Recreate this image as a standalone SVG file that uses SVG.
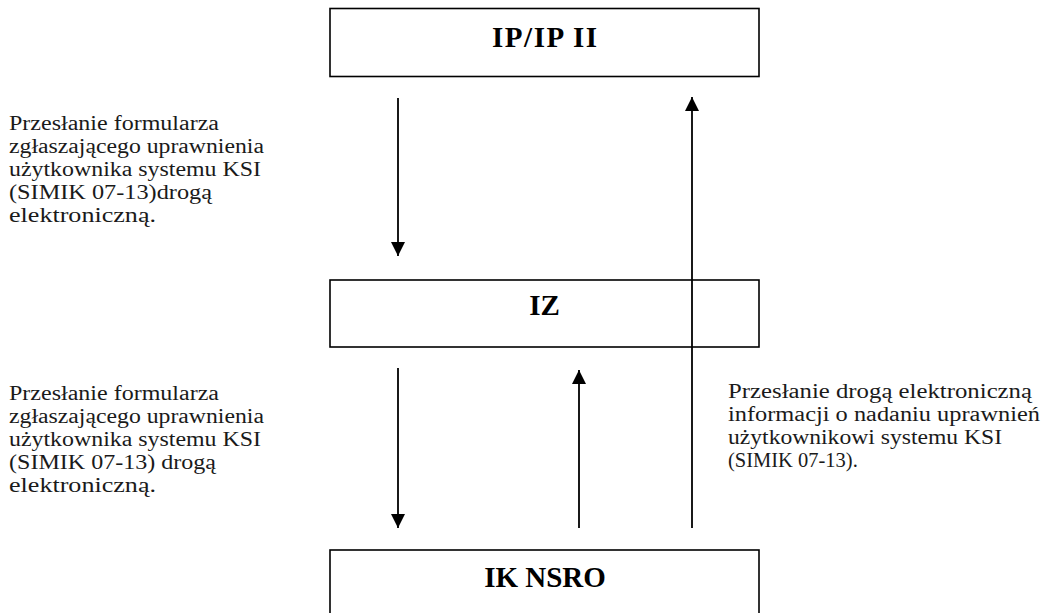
<svg xmlns="http://www.w3.org/2000/svg" width="1047" height="613" viewBox="0 0 1047 613">
<style>
.box{fill:#fff;stroke:#000;stroke-width:1.6}
.title{font-family:"Liberation Serif",serif;font-weight:bold;font-size:29px;text-anchor:middle;fill:#000}
.lbl{font-family:"Liberation Serif",serif;font-size:20.5px;fill:#1a1a1a}
.conn{stroke:#000;stroke-width:1.8;fill:none}
</style>
<defs>
<marker id="ah" markerUnits="userSpaceOnUse" markerWidth="16" markerHeight="16" viewBox="0 0 16 16" refX="14" refY="8" orient="auto">
<path d="M0,1 L14,8 L0,15 Z" fill="#000"/>
</marker>
</defs>
<g id="node-ip">
<rect class="box" x="330" y="8.5" width="429" height="68"/>
<text class="title" x="544.5" y="47" textLength="105">IP/IP II</text>
</g>
<g id="node-iz">
<rect class="box" x="330" y="280" width="429" height="67"/>
<text class="title" x="544.5" y="315">IZ</text>
</g>
<g id="node-ik">
<rect class="box" x="330" y="550" width="429" height="80"/>
<text class="title" x="545" y="587">IK NSRO</text>
</g>
<g id="connectors">
<line class="conn" x1="398" y1="98" x2="398" y2="256" marker-end="url(#ah)"/>
<line class="conn" x1="398" y1="368" x2="398" y2="528" marker-end="url(#ah)"/>
<line class="conn" x1="579" y1="528" x2="579" y2="370" marker-end="url(#ah)"/>
<line class="conn" x1="692" y1="528" x2="692" y2="97" marker-end="url(#ah)"/>
</g>
<g id="label-1">
<text class="lbl"><tspan x="9" y="130" textLength="210" lengthAdjust="spacingAndGlyphs">Przesłanie formularza</tspan><tspan x="9" y="153" textLength="255" lengthAdjust="spacingAndGlyphs">zgłaszającego uprawnienia</tspan><tspan x="9" y="176" textLength="252" lengthAdjust="spacingAndGlyphs">użytkownika systemu KSI</tspan><tspan x="9" y="199" textLength="203" lengthAdjust="spacingAndGlyphs">(SIMIK 07-13)drogą</tspan><tspan x="9" y="222" textLength="147" lengthAdjust="spacingAndGlyphs">elektroniczną.</tspan></text>
</g>
<g id="label-2">
<text class="lbl"><tspan x="9" y="400" textLength="210" lengthAdjust="spacingAndGlyphs">Przesłanie formularza</tspan><tspan x="9" y="423" textLength="255" lengthAdjust="spacingAndGlyphs">zgłaszającego uprawnienia</tspan><tspan x="9" y="446" textLength="252" lengthAdjust="spacingAndGlyphs">użytkownika systemu KSI</tspan><tspan x="9" y="469" textLength="207" lengthAdjust="spacingAndGlyphs">(SIMIK 07-13) drogą</tspan><tspan x="9" y="492" textLength="147" lengthAdjust="spacingAndGlyphs">elektroniczną.</tspan></text>
</g>
<g id="label-3">
<text class="lbl"><tspan x="728" y="398" textLength="304" lengthAdjust="spacingAndGlyphs">Przesłanie drogą elektroniczną</tspan><tspan x="728" y="421" textLength="312" lengthAdjust="spacingAndGlyphs">informacji o nadaniu uprawnień</tspan><tspan x="728" y="444" textLength="274" lengthAdjust="spacingAndGlyphs">użytkownikowi systemu KSI</tspan><tspan x="728" y="467">(SIMIK 07-13).</tspan></text>
</g>
</svg>
